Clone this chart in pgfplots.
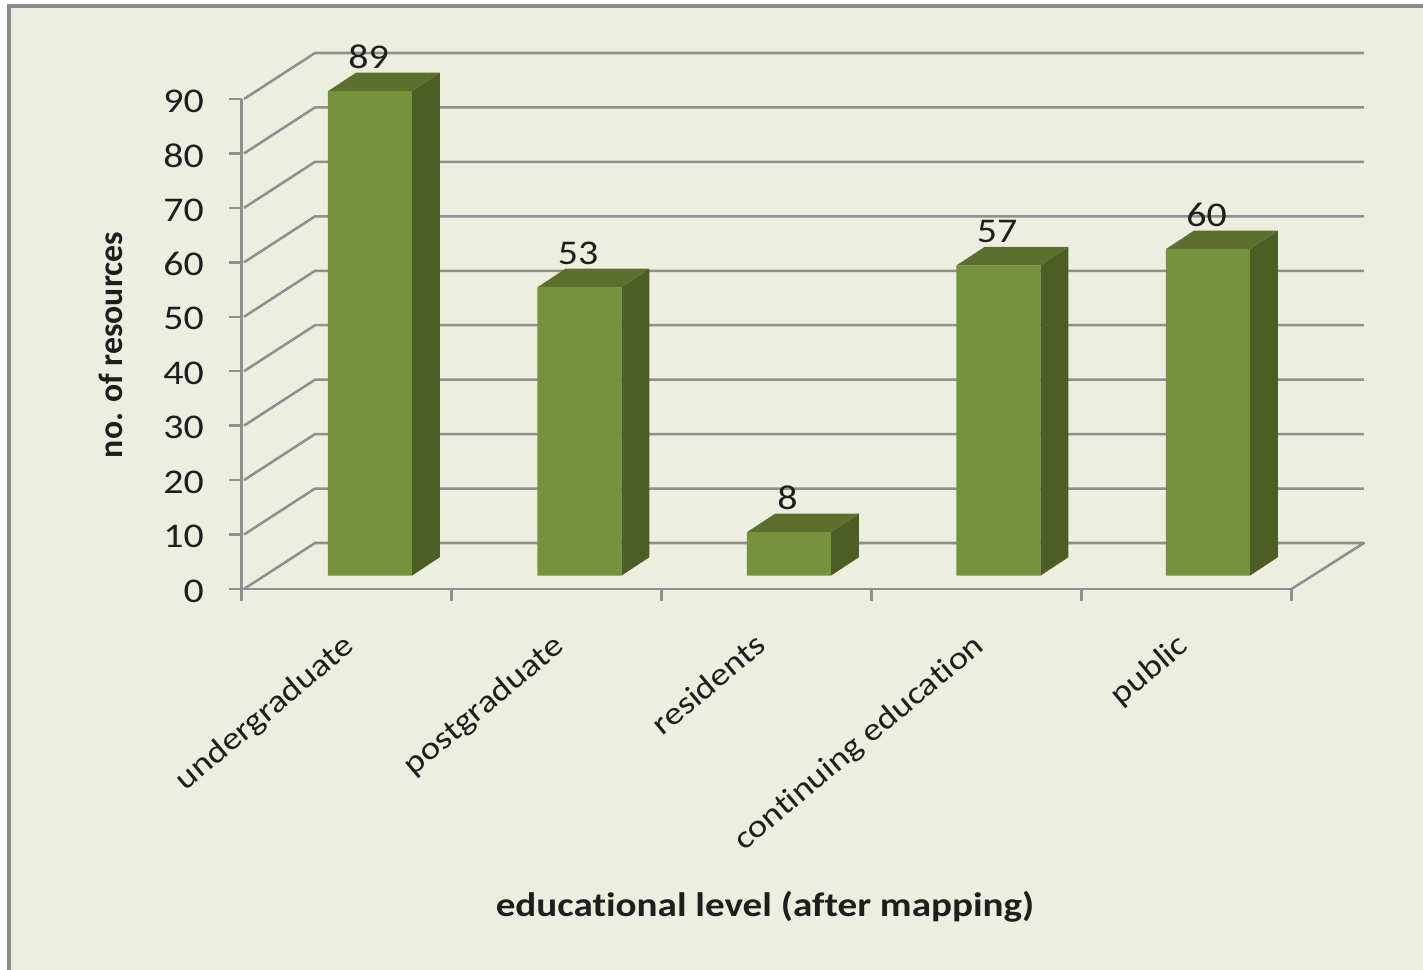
\documentclass[border=0pt]{standalone}
\usepackage{pgfplots}
\pgfplotsset{compat=1.18}
\usepackage{fontspec}
\setmainfont{Carlito}[FakeStretch=1.15,Ligatures=NoCommon]
\newfontfamily\plainf{Carlito}[Ligatures=NoCommon]
\definecolor{bgc}{HTML}{ECEFDF}
\definecolor{framec}{HTML}{8C8C8C}
\definecolor{gridc}{HTML}{8F8F8F}
\definecolor{frontc}{HTML}{76923C}
\definecolor{topc}{HTML}{5C6F2C}
\definecolor{sidec}{HTML}{4D5E25}
\definecolor{txt}{HTML}{1E1E1E}
\begin{document}
\begin{tikzpicture}[x=0.75pt,y=0.75pt]
\useasboundingbox (0,0) rectangle (1423,970);
\fill[white] (0,0) rectangle (1423,970);
\fill[bgc] (9,0) rectangle (1423,964);
\draw[framec,line width=2.6pt] (9,0) -- (9,964) -- (1423,964);
% walls, gridlines and axes
\begin{axis}[
  at={(181.125pt,285.75pt)},anchor=south west,
  scale only axis,width=787.5pt,height=367.5pt,
  xmin=0,xmax=5,ymin=0,ymax=90,
  clip=false,
  axis x line=bottom,axis y line=left,
  axis line style={gridc,line width=1.9pt,-},
  tick style={gridc,line width=1.9pt},
  tick align=outside,
  major tick length=9pt,
  xtick={0,1,2,3,4,5},xticklabels={},
  ytick={0,10,...,90},
  extra x ticks={0.548,1.548,2.51,3.548,4.52},
  extra x tick labels={undergraduate,postgraduate,residents,continuing education,public},
  extra x tick style={major tick length=0pt,tick style={draw=none},
    tick label style={rotate=40,anchor=north east,font=\fontsize{24}{30}\selectfont,text=txt,inner sep=0pt,xshift=-29pt,yshift=-17pt}},
  y tick label style={font=\fontsize{26}{30}\selectfont,text=txt,inner sep=0pt,xshift=-19pt,yshift=-1.5pt},
  /pgf/number format/assume math mode=true,
  xlabel={\textbf{educational level (after mapping)}},
  ylabel={\plainf\textbf{no. of resources}},
  xlabel style={at={(rel axis cs:0.4986,-0.649)},anchor=center,font=\fontsize{25.5}{30}\selectfont,text=txt},
  ylabel style={at={(rel axis cs:-0.1243,0.498)},anchor=center,rotate=0,font=\fontsize{25.3}{30}\selectfont,text=txt},
]
\addplot[gridc,line width=1.9pt,line join=round] coordinates {(0.012,0) (0.35,8.45) (5.345,8.45) (5,0)};
\addplot[gridc,line width=1.9pt,line join=round] coordinates {(0.012,10) (0.35,18.45) (5.345,18.45)};
\addplot[gridc,line width=1.9pt,line join=round] coordinates {(0.012,20) (0.35,28.45) (5.345,28.45)};
\addplot[gridc,line width=1.9pt,line join=round] coordinates {(0.012,30) (0.35,38.45) (5.345,38.45)};
\addplot[gridc,line width=1.9pt,line join=round] coordinates {(0.012,40) (0.35,48.45) (5.345,48.45)};
\addplot[gridc,line width=1.9pt,line join=round] coordinates {(0.012,50) (0.35,58.45) (5.345,58.45)};
\addplot[gridc,line width=1.9pt,line join=round] coordinates {(0.012,60) (0.35,68.45) (5.345,68.45)};
\addplot[gridc,line width=1.9pt,line join=round] coordinates {(0.012,70) (0.35,78.45) (5.345,78.45)};
\addplot[gridc,line width=1.9pt,line join=round] coordinates {(0.012,80) (0.35,88.45) (5.345,88.45)};
\addplot[gridc,line width=1.9pt,line join=round] coordinates {(0.012,90) (0.35,98.45) (5.345,98.45)};
\end{axis}
% bars: same box, y = 0 on the front plane
\begin{axis}[
  at={(181.125pt,285.75pt)},anchor=south west,
  scale only axis,width=787.5pt,height=367.5pt,
  xmin=0.387,xmax=5.399,ymin=-2.44,ymax=87.56,
  clip=false,hide axis,
]
% side faces
\addplot[fill=sidec,draw=none] coordinates {(1.2,0) (1.334,3.4) (1.334,92.4) (1.2,89)} --cycle;
\addplot[fill=sidec,draw=none] coordinates {(2.2,0) (2.334,3.4) (2.334,56.4) (2.2,53)} --cycle;
\addplot[fill=sidec,draw=none] coordinates {(3.2,0) (3.334,3.4) (3.334,11.4) (3.2,8)} --cycle;
\addplot[fill=sidec,draw=none] coordinates {(4.2,0) (4.334,3.4) (4.334,60.4) (4.2,57)} --cycle;
\addplot[fill=sidec,draw=none] coordinates {(5.2,0) (5.334,3.4) (5.334,63.4) (5.2,60)} --cycle;
% top faces
\addplot[fill=topc,draw=none] coordinates {(0.8,89) (1.2,89) (1.334,92.4) (0.934,92.4)} --cycle;
\addplot[fill=topc,draw=none] coordinates {(1.8,53) (2.2,53) (2.334,56.4) (1.934,56.4)} --cycle;
\addplot[fill=topc,draw=none] coordinates {(2.8,8) (3.2,8) (3.334,11.4) (2.934,11.4)} --cycle;
\addplot[fill=topc,draw=none] coordinates {(3.8,57) (4.2,57) (4.334,60.4) (3.934,60.4)} --cycle;
\addplot[fill=topc,draw=none] coordinates {(4.8,60) (5.2,60) (5.334,63.4) (4.934,63.4)} --cycle;
% front faces
\addplot[ybar,bar width=63pt,bar shift=0pt,fill=frontc,draw=none,
  nodes near coords,
  nodes near coords style={anchor=south,inner sep=0pt,yshift=16.8pt,xshift=-1pt,
    font=\fontsize{26}{30}\selectfont,text=txt},
  /pgf/number format/assume math mode=true]
  coordinates {(1,89) (2,53) (3,8) (4,57) (5,60)};
\end{axis}
\end{tikzpicture}
\end{document}
